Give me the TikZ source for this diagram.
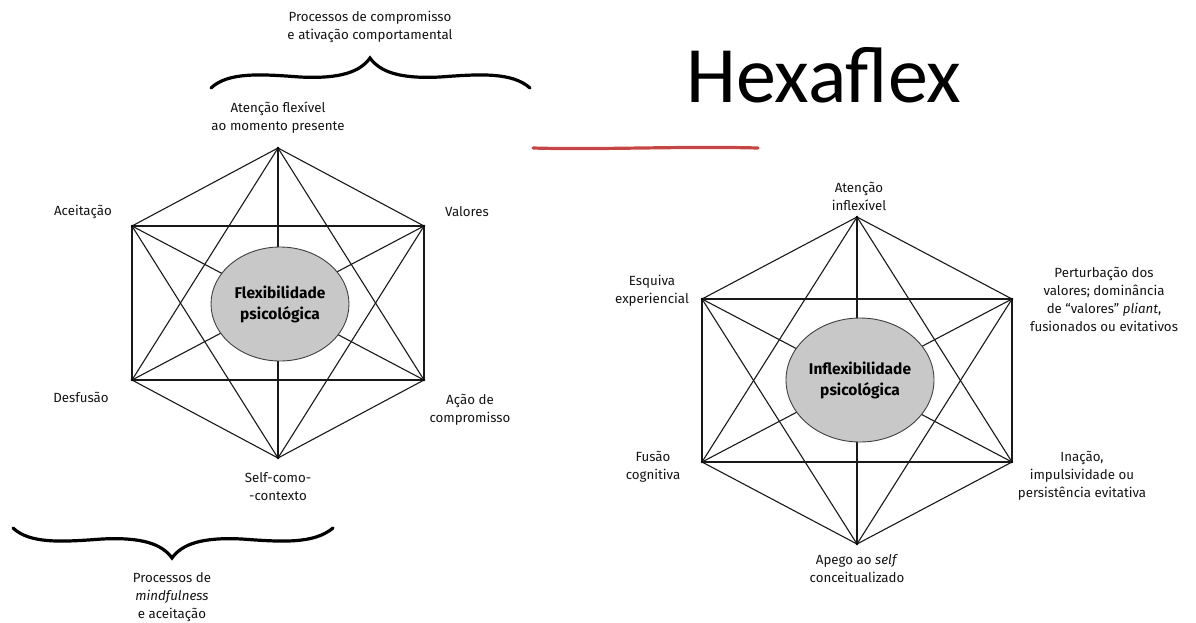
\documentclass[tikz,border=0pt]{standalone}
\usepackage{fontspec}
\setmainfont{Fira Sans}
\newfontfamily\titlefont{Carlito}
\usetikzlibrary{shapes.geometric}
\definecolor{inkred}{RGB}{198,70,70}
\definecolor{coregray}{RGB}{200,200,200}
\begin{document}
\begin{tikzpicture}[x=1pt,y=-1pt,
  lbl/.style={font=\fontsize{13.3}{18}\selectfont, align=center, text=black!92, inner sep=0pt},
  hexline/.style={line width=1.1pt, draw=black!90},
  vdot/.style={circle, fill=black, inner sep=0pt, minimum size=2.6pt},
  core/.style={ellipse, draw=black!75, line width=0.9pt, fill=coregray, inner sep=0pt,
    align=center, font=\fontsize{15.5}{21}\selectfont\bfseries, text=black},
  brace/.style={line width=3.2pt, line cap=round, draw=black}]
\useasboundingbox (0,0) rectangle (1196,622);

% ---------- left hexaflex ----------
\coordinate (LT) at (278,148);
\coordinate (LUL) at (132,226);
\coordinate (LUR) at (424,226);
\coordinate (LLL) at (132,380);
\coordinate (LLR) at (424,380);
\coordinate (LB) at (278,458);
\foreach \a/\b in {LT/LUR,LUR/LLR,LLR/LB,LB/LLL,LLL/LUL,LUL/LT,
                   LT/LLR,LT/LLL,LUR/LB,LUR/LUL,LLR/LLL,LB/LUL,
                   LT/LB,LUL/LLR,LUR/LLL}
  \draw[hexline] (\a) -- (\b);
\foreach \v in {LT,LUL,LUR,LLL,LLR,LB} \node[vdot] at (\v) {};
\node[core, minimum width=138pt, minimum height=114pt] (lcore) at (280,304)
  {Flexibilidade\\psicológica};

\node[lbl] (l1) at (278,118) {Atenção flexível\\ao momento presente};
\node[lbl] (l2) at (83,212) {Aceitação};
\node[lbl] (l3) at (467,212) {Valores};
\node[lbl] (l4) at (81,397) {Desfusão};
\node[lbl] (l5) at (470,410) {Ação de\\compromisso};
\node[lbl] (l6) at (278,487) {Self-como-\\-contexto};
\node[lbl] (l7) at (370,27) {Processos de compromisso\\e ativação comportamental};
\node[lbl] (l8) at (172,597) {Processos de\\\textit{mindfulness}\\e aceitação};

% braces
\draw[brace] (211,88) .. controls (228,72) and (260,74) .. (300,77)
  .. controls (340,79) and (360,72) .. (370,58)
  .. controls (380,72) and (400,79) .. (440,77)
  .. controls (480,74) and (512,72) .. (530,88);
\draw[brace] (13,528) .. controls (30,544) and (62,542) .. (102,539)
  .. controls (142,537) and (162,544) .. (172,558)
  .. controls (182,544) and (202,537) .. (242,539)
  .. controls (282,542) and (314,544) .. (333,528);

% ---------- title ----------
\node[inner sep=0pt, font=\titlefont\fontsize{80}{90}\selectfont, text=black] (title) at (824,75) {Hexaflex};
\coordinate (ra) at (533,148);
\coordinate (rb) at (758,148);
\draw[line width=3.2pt, draw=inkred, line cap=round] (ra) .. controls (600,150) and (680,146) .. (rb);

% ---------- right hexaflex ----------
\coordinate (RT) at (857,217);
\coordinate (RUL) at (702,299);
\coordinate (RUR) at (1012,299);
\coordinate (RLL) at (702,462);
\coordinate (RLR) at (1012,462);
\coordinate (RB) at (857,544);
\foreach \a/\b in {RT/RUR,RUR/RLR,RLR/RB,RB/RLL,RLL/RUL,RUL/RT,
                   RT/RLR,RT/RLL,RUR/RB,RUR/RUL,RLR/RLL,RB/RUL,
                   RT/RB,RUL/RLR,RUR/RLL}
  \draw[hexline] (\a) -- (\b);
\foreach \v in {RT,RUL,RUR,RLL,RLR,RB} \node[vdot] at (\v) {};
\node[core, minimum width=148pt, minimum height=124pt] (rcore) at (860,380)
  {Inflexibilidade\\psicológica};

\node[lbl] (r1) at (859,196) {Atenção\\inflexível};
\node[lbl] (r2) at (652,291) {Esquiva\\experiencial};
\node[lbl] (r3) at (1104,299) {Perturbação dos\\valores; dominância\\de “valores” \textit{pliant},\\fusionados ou evitativos};
\node[lbl] (r4) at (653,467) {Fusão\\cognitiva};
\node[lbl] (r5) at (1082,476) {Inação,\\impulsividade ou\\persistência evitativa};
\node[lbl] (r6) at (857,569) {Apego ao \textit{self}\\conceitualizado};
\end{tikzpicture}
\end{document}
